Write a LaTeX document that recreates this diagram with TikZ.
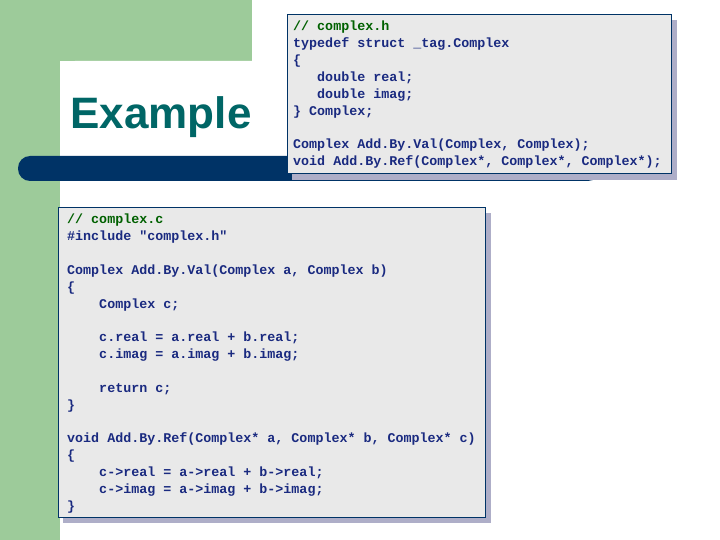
\documentclass[tikz,border=0pt]{standalone}
\usepackage{fontspec}
\setmainfont{Liberation Sans}
\newfontfamily\codefont{Liberation Mono}
\definecolor{gr}{HTML}{9DCB9A}
\definecolor{navy}{HTML}{003366}
\definecolor{teal}{HTML}{006666}
\definecolor{codeb}{HTML}{1A2A80}
\definecolor{cmt}{HTML}{006000}
\definecolor{boxf}{HTML}{E9E9E9}
\definecolor{shad}{HTML}{AEAEC8}
\tikzset{codebox/.style={draw=navy,line width=0.8bp,fill=boxf},
 code/.style={anchor=north west,inner sep=0pt,align=left,text=codeb,
   font=\codefont\bfseries\fontsize{13.35bp}{16.85bp}\selectfont}}
\newcommand{\cm}[1]{\textcolor{cmt}{#1}}
\begin{document}
\begin{tikzpicture}[x=1bp,y=-1bp]
\useasboundingbox (0,0) rectangle (720,540);
\fill[white] (0,0) rectangle (720,540);
\fill[gr] (0,0) rectangle (60,540);
\fill[gr] (0,0) rectangle (252,61);
\fill[white] (60,200) -- (60,76) arc[start angle=180,end angle=90,radius=15bp] -- (252,61) -- (252,200) -- cycle;
\fill[navy,rounded corners=12bp] (18,156) rectangle (600,181);
\node[text=teal,font=\bfseries\fontsize{44bp}{50bp}\selectfont,anchor=center] (title) at (161,117) {Example};
% top box
\fill[shad] (292,20) rectangle (677,180);
\node[codebox,minimum width=384bp,minimum height=159bp,anchor=north west,inner sep=0pt] (hbox) at (287,14) {};
\node[code] (htext) at (293,21) {\cm{// complex.h}\\typedef struct \_tag.Complex\\\{\\\ \ \ double real;\\\ \ \ double imag;\\\} Complex;\\\mbox{}\\Complex Add.By.Val(Complex, Complex);\\void Add.By.Ref(Complex*, Complex*, Complex*);};
% bottom box
\fill[shad] (63,213) rectangle (491,523);
\node[codebox,minimum width=427bp,minimum height=310bp,anchor=north west,inner sep=0pt] (cbox) at (58,207) {};
\node[code] (ctext) at (67,214) {\cm{// complex.c}\\\#include "complex.h"\\\mbox{}\\Complex Add.By.Val(Complex a, Complex b)\\\{\\\ \ \ \ Complex c;\\\mbox{}\\\ \ \ \ c.real = a.real + b.real;\\\ \ \ \ c.imag = a.imag + b.imag;\\\mbox{}\\\ \ \ \ return c;\\\}\\\mbox{}\\void Add.By.Ref(Complex* a, Complex* b, Complex* c)\\\{\\\ \ \ \ c->real = a->real + b->real;\\\ \ \ \ c->imag = a->imag + b->imag;\\\}};
\end{tikzpicture}
\end{document}
